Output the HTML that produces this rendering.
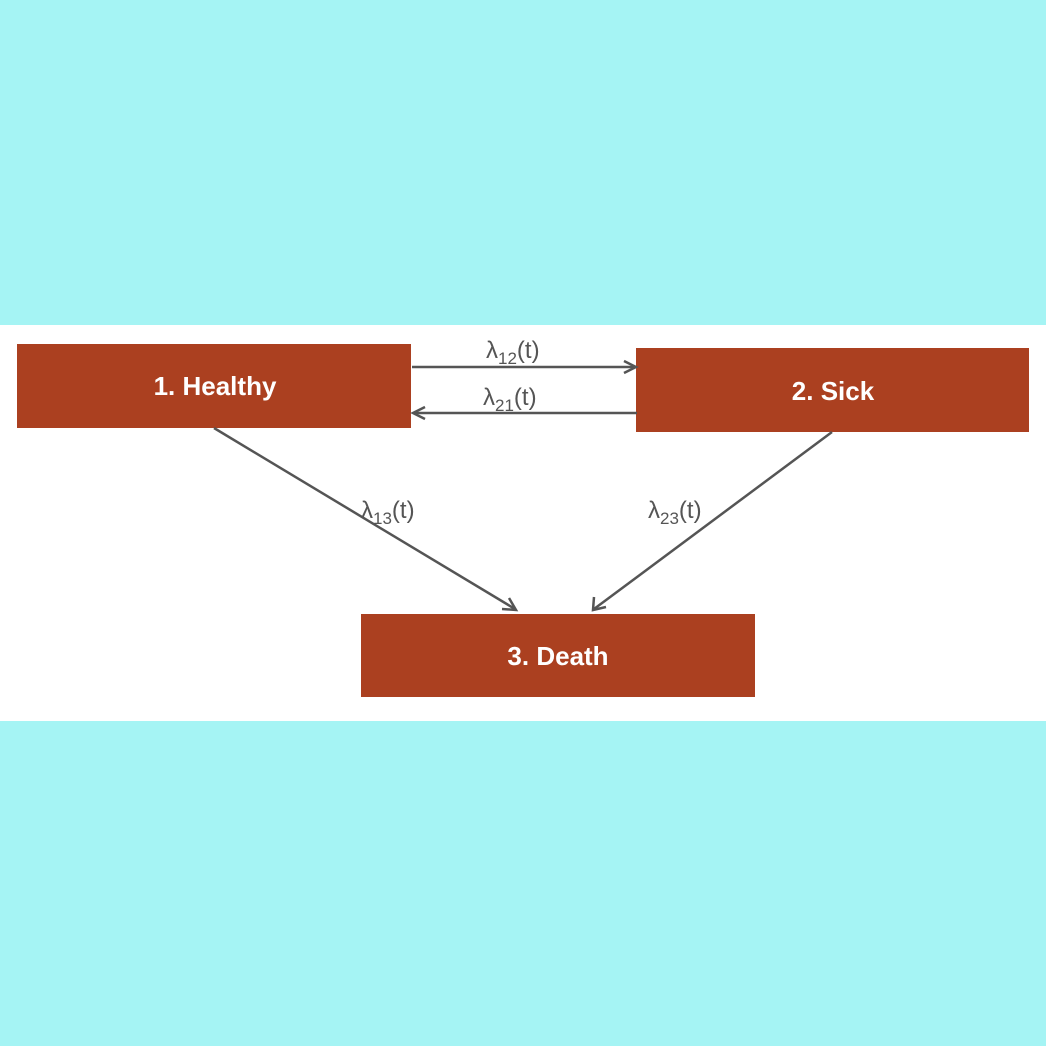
<!DOCTYPE html>
<html><head><style>
body{margin:0;width:1046px;height:1046px;background:#a5f4f4;overflow:hidden}
</style></head><body>
<svg width="1046" height="1046" xmlns="http://www.w3.org/2000/svg" style="position:absolute;left:0;top:0">
<rect x="0" y="325" width="1046" height="396" fill="#fff"/>
<g fill="#ab4020">
<rect x="17" y="344" width="394" height="84"/>
<rect x="636" y="348" width="393" height="84"/>
<rect x="361" y="614" width="394" height="83"/>
</g>
<g fill="#fff" font-family="Liberation Sans, sans-serif" font-weight="bold" font-size="26" text-anchor="middle">
<text x="215" y="395">1. Healthy</text>
<text x="833" y="400">2. Sick</text>
<text x="558" y="665">3. Death</text>
</g>
<g stroke="#555" stroke-width="2.5" fill="none">
<line x1="412" y1="367" x2="635" y2="367"/>
<polyline points="624,361 636,367 624,373"/>
<line x1="637" y1="413" x2="414" y2="413"/>
<polyline points="425,407 413,413 425,419"/>
<line x1="214" y1="428" x2="515" y2="609"/>
<polyline points="502,609 516,610 509,598"/>
<line x1="832" y1="432" x2="594" y2="609"/>
<polyline points="594,597 593,610 606,607"/>
</g>
<g fill="#555" font-family="Liberation Sans, sans-serif" font-size="24">
<text x="486" y="358">λ<tspan font-size="17" dy="6">12</tspan><tspan dy="-6">(t)</tspan></text>
<text x="483" y="405">λ<tspan font-size="17" dy="6">21</tspan><tspan dy="-6">(t)</tspan></text>
<text x="361" y="518">λ<tspan font-size="17" dy="6">13</tspan><tspan dy="-6">(t)</tspan></text>
<text x="648" y="518">λ<tspan font-size="17" dy="6">23</tspan><tspan dy="-6">(t)</tspan></text>
</g>
</svg>
</body></html>
